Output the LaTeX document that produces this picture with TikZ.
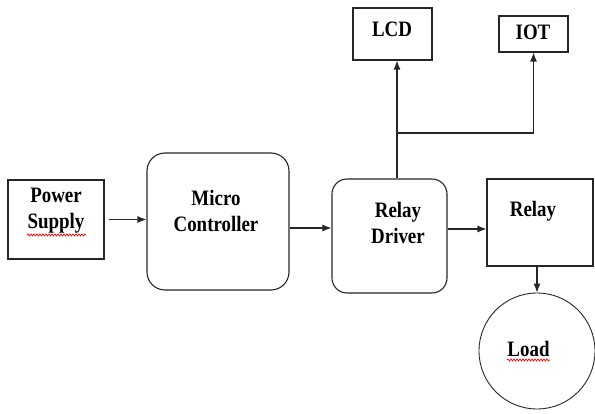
\documentclass[tikz,border=0pt]{standalone}
\usepackage{fontspec}
\setmainfont{Liberation Serif}
\newfontfamily\tallfont[FakeStretch=0.86]{Liberation Serif}
\usetikzlibrary{arrows.meta,decorations.pathmorphing}

\begin{document}
\begin{tikzpicture}[x=1pt,y=-1pt,->,>={Latex[length=9pt,width=7pt]},line width=1.1pt,draw=black!85]
	\tikzstyle{block}=[draw,rectangle,inner sep=0pt]
	\tikzstyle{round block}=[block,rounded corners=18pt]
	\tikzstyle{load}=[draw,circle,minimum size=116pt,inner sep=0pt,line width=0.9pt]
	\tikzstyle{label}=[align=center,font=\tallfont\fontsize{22}{26}\selectfont\bfseries,inner sep=0pt]
	\tikzstyle{spell}=[-,draw=red,line width=0.7pt,decorate,decoration={snake,amplitude=1pt,segment length=3pt}]

	\useasboundingbox (0,0) rectangle (595,414);

	% Draw the blocks
	\node[block, minimum width=96pt, minimum height=79pt] (PS) at (56,219.5) {};
	\node[round block, minimum width=142pt, minimum height=137pt] (MC) at (218,221.5) {};
	\node[round block, rounded corners=15pt, minimum width=115pt, minimum height=114pt] (RD) at (389.5,236) {};
	\node[block, minimum width=106pt, minimum height=87pt] (R) at (540,222.5) {};
	\node[load] (L) at (537,351) {};
	\node[block, minimum width=79pt, minimum height=52pt] (LCD) at (392.5,34) {};
	\node[block, minimum width=69pt, minimum height=36pt] (IOT) at (533.5,34) {};

	% Texts of the blocks
	\node[label] (PS-t) at (56,211) {Power\\Supply};
	\node[label] (MC-t) at (216,211) {Micro\\Controller};
	\node[label] (RD-t) at (398,223) {Relay\\Driver};
	\node[label] (R-t) at (533,211) {Relay};
	\node[label] (L-t) at (528.5,349) {Load};
	\node[label] (LCD-t) at (392,29) {LCD};
	\node[label] (IOT-t) at (533,32) {IOT};

	% Spelling marks
	\draw[spell] (27,235) -- (86,235);
	\draw[spell] (507,360) -- (550,360);

	% Connect the blocks
	\draw[shorten <=4pt] (PS.east) -- (PS.east -| MC.west);
	\draw ([yshift=-6.5pt]MC.east) -- ([yshift=-6.5pt]MC.east -| RD.west);
	\draw ([yshift=7pt]RD.east) -- ([yshift=7pt]RD.east -| R.west);
	\draw (L.north |- R.south) -- (L.north);

	% Relay driver to LCD and IOT
	\coordinate (split) at (397,133);
	\draw[-] (split |- RD.north) -- (split);
	\draw (split) -- (split |- LCD.south);
	\draw (split) -| (IOT.south);
\end{tikzpicture}
\end{document}
